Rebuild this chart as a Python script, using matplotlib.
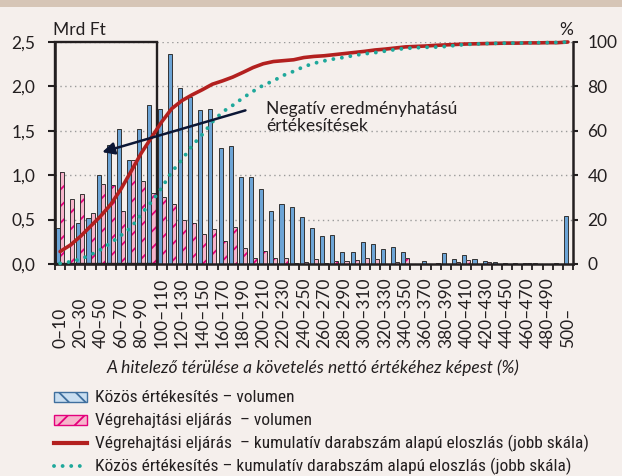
import numpy as np
import matplotlib
matplotlib.use("Agg")
import matplotlib.pyplot as plt
from matplotlib import font_manager
from matplotlib.patches import Rectangle
from matplotlib.lines import Line2D


def pick_font(candidates, default="DejaVu Sans"):
    names = {f.name for f in font_manager.fontManager.ttflist}
    for c in candidates:
        if c in names:
            return c
    return default


MAIN_FONT = pick_font(["Lato", "Open Sans", "Roboto"])
NARROW_FONT = pick_font(["Liberation Sans Narrow", "Roboto Condensed", "Open Sans Condensed", "Lato"])

# ---- data -------------------------------------------------------------
bin_labels = [f"{a}–{a + 10}" for a in range(0, 500, 10)] + ["500–"]

# Közös értékesítés – volumen (Mrd Ft)
kozos_vol = [0.40, 0.01, 0.46, 0.52, 1.00, 1.34, 1.52, 1.17, 1.52, 1.79,
             1.75, 2.36, 1.98, 1.88, 1.73, 1.74, 1.31, 1.33, 0.98, 0.98,
             0.85, 0.60, 0.675, 0.64, 0.53, 0.405, 0.32, 0.33, 0.14, 0.14,
             0.245, 0.22, 0.165, 0.19, 0.13, 0.005, 0.03, 0.005, 0.12, 0.06,
             0.105, 0.06, 0.035, 0.025, 0.01, 0.01, 0.01, 0.01, 0.005, 0.01,
             0.54]

# Végrehajtási eljárás – volumen (Mrd Ft)
vegreh_vol = [1.04, 0.73, 0.79, 0.57, 0.90, 0.885, 0.60, 1.17, 0.94, 0.80,
              0.75, 0.68, 0.50, 0.46, 0.34, 0.39, 0.255, 0.42, 0.18, 0.07,
              0.15, 0.065, 0.07, 0.015, 0.025, 0.06, 0.01, 0.03, 0.03, 0.04,
              0.07, 0.06, 0.005, 0.025, 0.065, 0.005, 0.0, 0.015, 0.0, 0.02,
              0.04, 0.0, 0.025, 0.005, 0.0, 0.0, 0.01, 0.005, 0.005, 0.0,
              0.0]

# cumulative distributions by count (%, right scale)
vegreh_cum = [5.6, 8.5, 12.4, 17.0, 21.6, 26.9, 33.8, 41.8, 50.0, 57.0,
              64.0, 70.0, 73.6, 76.2, 78.5, 81.0, 82.5, 84.2, 86.3, 88.5,
              90.2, 91.2, 91.6, 92.0, 93.0, 93.5, 93.8, 94.3, 94.8, 95.3,
              95.8, 96.4, 96.8, 97.3, 97.8, 98.0, 98.2, 98.5, 98.7, 98.9,
              99.1, 99.2, 99.3, 99.4, 99.5, 99.5, 99.6, 99.6, 99.7, 99.7,
              100.0]

kozos_cum = [0.3, 1.0, 2.2, 4.1, 6.5, 9.5, 12.9, 16.5, 22.5, 28.0,
             34.3, 41.5, 47.0, 53.3, 58.3, 64.0, 68.5, 71.5, 74.8, 77.8,
             80.5, 82.5, 85.0, 86.8, 88.9, 90.4, 91.5, 92.4, 93.1, 94.0,
             94.7, 95.2, 95.9, 96.6, 97.1, 97.4, 97.6, 97.7, 98.0, 98.5,
             98.9, 99.1, 99.3, 99.4, 99.5, 99.5, 99.6, 99.7, 99.7, 99.8,
             100.0]

left_ticks = [0.0, 0.5, 1.0, 1.5, 2.0, 2.5]
left_ticklabels = ["0,0", "0,5", "1,0", "1,5", "2,0", "2,5"]
right_ticks = [0, 20, 40, 60, 80, 100]
right_ticklabels = ["0", "20", "40", "60", "80", "100"]

legend_labels = [
    "Közös értékesítés – volumen",
    "Végrehajtási eljárás  – volumen",
    "Végrehajtási eljárás  – kumulatív darabszám alapú eloszlás (jobb skála)",
    "Közös értékesítés – kumulatív darabszám alapú eloszlás (jobb skála)",
]

# ---- style ------------------------------------------------------------
BG = "#F5EFEC"
BAND = "#D6C5B6"
DARK = "#231F20"
BLUE = "#6CA4D6"
PINK = "#F6B5CB"
MAGENTA = "#E4007C"
RED = "#B3201F"
TEAL = "#1FA89B"
ARROW = "#0B1635"
FS = 12.5

plt.rcParams["font.family"] = [MAIN_FONT, "DejaVu Sans"]
plt.rcParams["hatch.linewidth"] = 1.3

W, H = 622, 476
fig = plt.figure(figsize=(W / 100, H / 100), dpi=100, facecolor=BG)
fig.patches.append(Rectangle((0, 1 - 7 / H), 1, 7 / H, transform=fig.transFigure,
                             facecolor=BAND, edgecolor="none", zorder=0))

ax = fig.add_axes([55 / W, (H - 264) / H, 518 / W, 222 / H])
ax.set_facecolor(BG)
ax2 = ax.twinx()

n = len(bin_labels)
x = np.arange(n)

# bars
ax.bar(x + 0.1, kozos_vol, width=0.4, align="edge", color=BLUE,
       edgecolor="#333333", linewidth=0.7, zorder=2)
ax.bar(x + 0.5, vegreh_vol, width=0.4, align="edge", color=PINK,
       edgecolor=MAGENTA, hatch="//", linewidth=0, zorder=2)
ax.bar(x + 0.5, vegreh_vol, width=0.4, align="edge", fill=False,
       edgecolor="#333333", linewidth=0.7, zorder=2.1)

# box marking sales with negative result
ax.add_patch(Rectangle((0, 0), 10, 2.5, fill=False, edgecolor=DARK,
                       linewidth=1.7, zorder=3, clip_on=False))

ax.set_xlim(0, n)
ax.set_ylim(0, 2.5)
ax.set_yticks(left_ticks)
ax.set_yticklabels(left_ticklabels)
ax.yaxis.grid(True, linestyle=(0, (1, 2.5)), color="#9A9A9A", linewidth=1.0, zorder=0)
ax.set_axisbelow(True)
ax.set_xticks(np.arange(n + 1))
ax.set_xticklabels([])
ax.tick_params(axis="x", direction="out", length=4.5, width=1.3, color=DARK)
ax.tick_params(axis="y", direction="out", length=5, width=1.5, color=DARK,
               pad=9, labelsize=FS, labelcolor=DARK)

for s in ("top", "right"):
    ax.spines[s].set_visible(False)
for s in ("left", "bottom"):
    ax.spines[s].set_linewidth(1.8)
    ax.spines[s].set_color(DARK)

# cumulative lines
ax2.plot(x + 0.5, vegreh_cum, color=RED, lw=2.6, solid_capstyle="round",
         clip_on=False, zorder=4)
ax2.plot(x + 0.5, kozos_cum, color=TEAL, lw=2.8, linestyle=(0, (0.01, 2.2)),
         dash_capstyle="round", clip_on=False, zorder=4)
ax2.set_ylim(0, 100)
ax2.set_yticks(right_ticks)
ax2.set_yticklabels(right_ticklabels)
ax2.tick_params(axis="y", direction="out", length=3.5, width=1.5, color=DARK,
                pad=7, labelsize=FS, labelcolor=DARK)
for s in ("top", "left", "bottom"):
    ax2.spines[s].set_visible(False)
ax2.spines["right"].set_linewidth(1.8)
ax2.spines["right"].set_color(DARK)

# category labels under the axis (every second bin)
for k in range(0, n, 2):
    ax.annotate(bin_labels[k], xy=(k + 0.5, 0), xycoords=("data", "axes fraction"),
                xytext=(0, -84 * 0.72), textcoords="offset points",
                rotation=90, ha="center", va="bottom", fontsize=FS, color=DARK)

# arrow and its note
ax2.annotate("", xy=(4.65, 1.26), xycoords=ax.transData,
             xytext=(18.75, 1.73), textcoords=ax.transData,
             arrowprops=dict(arrowstyle="-|>", color=ARROW, lw=1.8,
                             mutation_scale=18, shrinkA=0, shrinkB=0),
             zorder=6)
fig.text(266 / W, 1 - 101 / H, "Negatív eredményhatású\nértékesítések",
         ha="left", va="top", fontsize=FS, color=DARK, linespacing=1.05)

# axis titles
fig.text(53 / W, 1 - 35 / H, "Mrd Ft", ha="left", va="baseline", fontsize=FS, color=DARK)
fig.text(573 / W, 1 - 35 / H, "%", ha="right", va="baseline", fontsize=FS, color=DARK)
fig.text(313 / W, 1 - 368 / H,
         "A hitelező térülése a követelés nettó értékéhez képest (%)",
         ha="center", va="center", fontsize=FS, style="italic", color=DARK)

# legend
rows_y = [397, 420, 443, 466]
hx0, hx1 = 54, 87
lg = fig.add_artist(Rectangle((hx0 / W, 1 - (rows_y[0] + 5) / H), (hx1 - hx0) / W, 10 / H,
                              transform=fig.transFigure, facecolor="#C9DEF1",
                              edgecolor="#3F6F9E", hatch="\\\\", linewidth=1.0))
fig.add_artist(Rectangle((hx0 / W, 1 - (rows_y[1] + 5) / H), (hx1 - hx0) / W, 10 / H,
                         transform=fig.transFigure, facecolor=PINK,
                         edgecolor=MAGENTA, hatch="//", linewidth=1.0))
fig.add_artist(Line2D([hx0 / W, hx1 / W], [1 - rows_y[2] / H] * 2,
                      transform=fig.transFigure, color=RED, lw=3.0))
fig.add_artist(Line2D([hx0 / W, hx1 / W], [1 - rows_y[3] / H] * 2,
                      transform=fig.transFigure, color=TEAL, lw=2.8,
                      linestyle=(0, (0.01, 2.2)), dash_capstyle="round"))
for yy, lab in zip(rows_y, legend_labels):
    fig.text(95 / W, 1 - yy / H, lab, ha="left", va="center", fontsize=FS,
             color=DARK, family=[NARROW_FONT, "DejaVu Sans"])

fig.savefig("out.png", dpi=100, facecolor=BG)
